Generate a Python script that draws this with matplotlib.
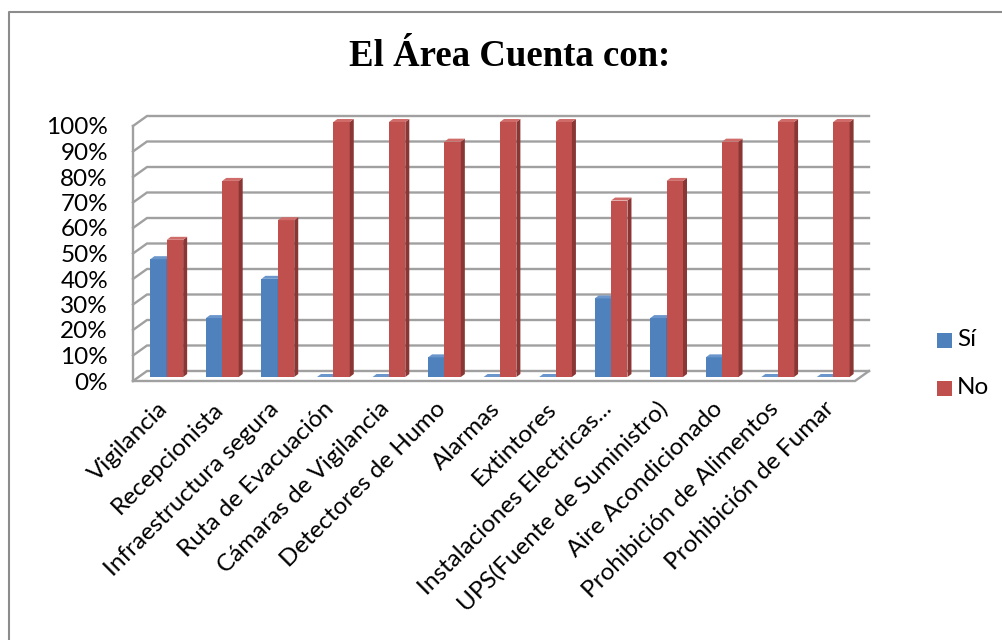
import matplotlib
matplotlib.use("Agg")
import matplotlib.pyplot as plt
from matplotlib.patches import Polygon, Rectangle
from matplotlib.lines import Line2D
import numpy as np

# ---- data -------------------------------------------------------------
categories = [
    "Vigilancia", "Recepcionista", "Infraestructura segura",
    "Ruta de Evacuación", "Cámaras de Vigilancia", "Detectores de Humo",
    "Alarmas", "Extintores", "Instalaciones Electricas...",
    "UPS(Fuente de Suministro)", "Aire Acondicionado",
    "Prohibición de Alimentos", "Prohibición de Fumar",
]
si_values = [46.2, 23.1, 38.5, 0, 0, 7.7, 0, 0, 30.8, 23.1, 7.7, 0, 0]
no_values = [53.8, 76.9, 61.5, 100, 100, 92.3, 100, 100, 69.2, 76.9, 92.3, 100, 100]
series_names = ["Sí", "No"]
y_ticks = [0, 10, 20, 30, 40, 50, 60, 70, 80, 90, 100]
y_tick_labels = [f"{t}%" for t in y_ticks]
title_text = "El Área Cuenta con:"

# ---- style ------------------------------------------------------------
W, H = 1003, 640
LABEL_FONT = ["Lato", "DejaVu Sans"]
LABEL_SIZE = 17.5
grid_color = "#a0a0a0"
faces = {
    "Sí": dict(front="#4f81bd", side="#395f8e", top="#6a96cc"),
    "No": dict(front="#c0504d", side="#8a3634", top="#cf6c69"),
}

fig = plt.figure(figsize=(W / 100, H / 100), dpi=100)
fig.patch.set_facecolor("white")

# front plane of the 3-D box, in pixels
x0_px, x1_px = 133, 855
y0_px, y1_px = 381, 126
ax = fig.add_axes([x0_px / W, (H - y0_px) / H, (x1_px - x0_px) / W, (y0_px - y1_px) / H])
n = len(categories)
xs = np.arange(n)
ax.set_xlim(-0.5, n - 0.5)
ax.set_ylim(0, 100)
for s in ax.spines.values():
    s.set_visible(False)
ax.set_facecolor("none")

# pixel -> data unit factors
kx = n / (x1_px - x0_px)
ky = 100 / (y0_px - y1_px)

# depth of the whole box, offset of the bar row and depth of a bar (px)
Dx, Dy = 14 * kx, 10 * ky
fx, fy = 6 * kx, 4 * ky
bx, by = 4 * kx, 3 * ky

# back wall grid lines with the short diagonal on the left wall
for t in y_ticks:
    ax.plot([-0.5, -0.5 + Dx, n - 0.5 + Dx], [t, t + Dy, t + Dy],
            color=grid_color, lw=1.7, clip_on=False, zorder=1,
            solid_joinstyle="miter")
# left wall front edge
ax.plot([-0.5, -0.5], [0, 100], color=grid_color, lw=1.7, clip_on=False, zorder=1)
# floor front and right edges
ax.plot([-0.5, n - 0.5, n - 0.5 + Dx], [0, 0, Dy], color=grid_color, lw=1.7,
        clip_on=False, zorder=1, solid_joinstyle="miter")

bar_w = 0.295


def draw_bar(left, value, name, z):
    c = faces[name]
    ax.bar(left + fx, value, bar_w, bottom=fy, align="edge", color=c["front"],
           linewidth=0, zorder=z, clip_on=False)
    r = left + bar_w + fx
    top = fy + value
    ax.add_patch(Polygon([(r, fy), (r + bx, fy + by), (r + bx, top + by), (r, top)],
                         closed=True, facecolor=c["side"], linewidth=0, zorder=z,
                         clip_on=False))
    ax.add_patch(Polygon([(left + fx, top), (left + fx + bx, top + by),
                          (r + bx, top + by), (r, top)],
                         closed=True, facecolor=c["top"], linewidth=0, zorder=z,
                         clip_on=False))


for i in range(n):
    draw_bar(xs[i] - bar_w, si_values[i], series_names[0], 3)
    draw_bar(xs[i], no_values[i], series_names[1], 4)

# axis labels
ax.set_xticks([])
ax.set_yticks(y_ticks, y_tick_labels)
ax.tick_params(axis="y", length=0, pad=18)
for lab in ax.get_yticklabels():
    lab.set_fontfamily(LABEL_FONT)
    lab.set_fontsize(LABEL_SIZE)
    lab.set_color("black")

lab_dx, lab_dy = -4 * kx, -17 * ky
for i, name in enumerate(categories):
    ax.text(xs[i] + lab_dx, lab_dy, name, rotation=45, rotation_mode="anchor",
            ha="right", va="top", fontsize=LABEL_SIZE, family=LABEL_FONT,
            clip_on=False)

# title
fig.text(510 / W, 1 - 66 / H, title_text, ha="center", va="baseline",
         fontsize=26.5, fontweight="bold", family=["Liberation Serif", "DejaVu Serif"])

# legend
for j, name in enumerate(series_names):
    yc = 340 + 48 * j
    fig.add_artist(Rectangle((937 / W, 1 - (yc + 7.5) / H), 15 / W, 15 / H,
                             transform=fig.transFigure, facecolor=faces[name]["front"],
                             linewidth=0))
    fig.text(957 / W, 1 - yc / H, name, ha="left", va="center",
             fontsize=LABEL_SIZE, family=LABEL_FONT)

# chart frame
fig.add_artist(Line2D([9 / W, 9 / W, 1.0], [0.0, 1 - 12 / H, 1 - 12 / H],
                      transform=fig.transFigure, color="#8c8c8c", lw=1.5))

fig.savefig("out.png", dpi=100)
